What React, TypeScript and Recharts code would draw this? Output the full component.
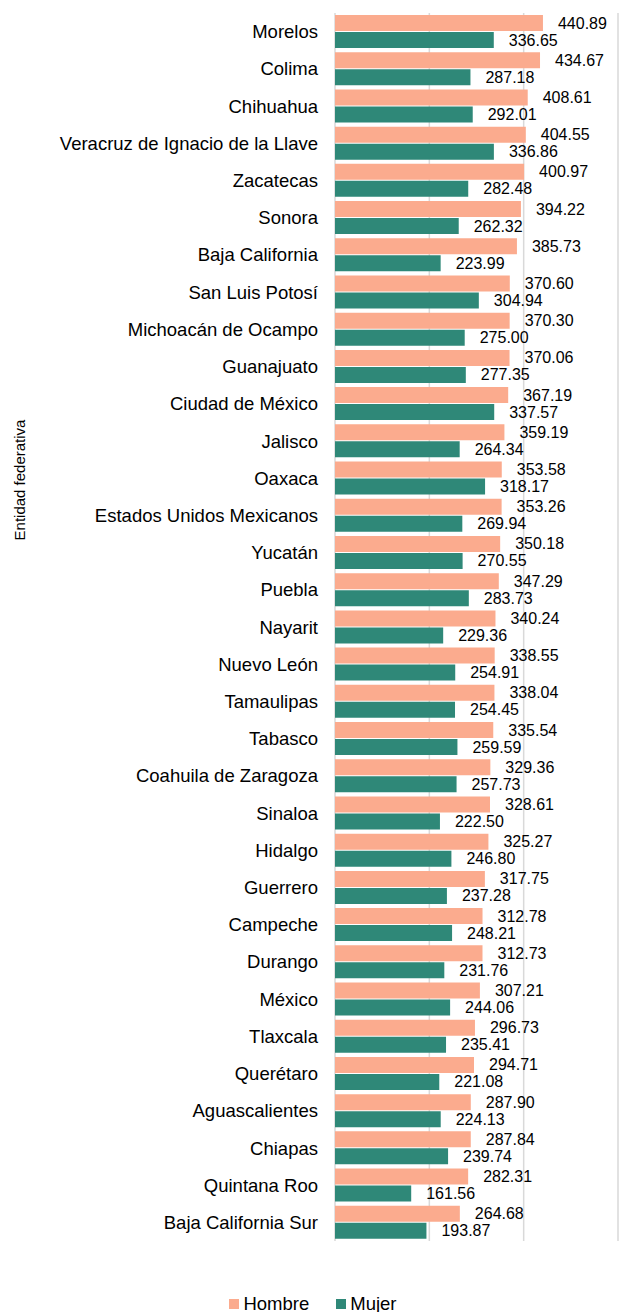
import React from "react";
import {
  BarChart,
  Bar,
  XAxis,
  YAxis,
  CartesianGrid,
  Legend,
  LabelList,
} from "recharts";

const ESTADOS = [
  "Morelos",
  "Colima",
  "Chihuahua",
  "Veracruz de Ignacio de la Llave",
  "Zacatecas",
  "Sonora",
  "Baja California",
  "San Luis Potosí",
  "Michoacán de Ocampo",
  "Guanajuato",
  "Ciudad de México",
  "Jalisco",
  "Oaxaca",
  "Estados Unidos Mexicanos",
  "Yucatán",
  "Puebla",
  "Nayarit",
  "Nuevo León",
  "Tamaulipas",
  "Tabasco",
  "Coahuila de Zaragoza",
  "Sinaloa",
  "Hidalgo",
  "Guerrero",
  "Campeche",
  "Durango",
  "México",
  "Tlaxcala",
  "Querétaro",
  "Aguascalientes",
  "Chiapas",
  "Quintana Roo",
  "Baja California Sur",
];

const HOMBRE = [
  440.89, 434.67, 408.61, 404.55, 400.97, 394.22, 385.73, 370.6, 370.3, 370.06,
  367.19, 359.19, 353.58, 353.26, 350.18, 347.29, 340.24, 338.55, 338.04,
  335.54, 329.36, 328.61, 325.27, 317.75, 312.78, 312.73, 307.21, 296.73,
  294.71, 287.9, 287.84, 282.31, 264.68,
];

const MUJER = [
  336.65, 287.18, 292.01, 336.86, 282.48, 262.32, 223.99, 304.94, 275.0,
  277.35, 337.57, 264.34, 318.17, 269.94, 270.55, 283.73, 229.36, 254.91,
  254.45, 259.59, 257.73, 222.5, 246.8, 237.28, 248.21, 231.76, 244.06,
  235.41, 221.08, 224.13, 239.74, 161.56, 193.87,
];

const X_TICKS = [0, 200, 400, 600];

const COLOR_HOMBRE = "#FBAB8E";
const COLOR_MUJER = "#2F8878";
const FONT = '"Liberation Sans", Arial, sans-serif';

const data = ESTADOS.map((name, i) => ({
  name,
  hombre: HOMBRE[i],
  mujer: MUJER[i],
}));

function ValueLabel(props: any) {
  const { x, y, width, height, value } = props;
  return (
    <text
      x={x + width + 15}
      y={y + height / 2}
      dominantBaseline="central"
      fontSize={16}
      fill="#000"
      fontFamily={FONT}
    >
      {Number(value).toFixed(2)}
    </text>
  );
}

const axisTitle = () => (
  <text
    transform="translate(19,480) rotate(-90)"
    textAnchor="middle"
    dominantBaseline="central"
    style={{ fontSize: 15, fontFamily: FONT, fill: "#000" }}
  >
    Entidad federativa
  </text>
);

function LegendBox() {
  const items = [
    { label: "Hombre", color: COLOR_HOMBRE },
    { label: "Mujer", color: COLOR_MUJER },
  ];
  return (
    <div
      style={{
        display: "flex",
        justifyContent: "center",
        gap: 27,
        paddingLeft: 8,
        fontFamily: FONT,
        fontSize: 18.5,
        color: "#000",
        lineHeight: "22px",
      }}
    >
      {items.map((it) => (
        <span key={it.label} style={{ display: "flex", alignItems: "center" }}>
          <span
            style={{
              width: 10,
              height: 10,
              background: it.color,
              display: "inline-block",
              marginRight: 4,
            }}
          />
          {it.label}
        </span>
      ))}
    </div>
  );
}

export default function App() {
  return (
    <div style={{ position: "absolute", left: 0, top: 0, background: "#fff" }}>
      <BarChart
        width={622}
        height={1312}
        data={data}
        layout="vertical"
        margin={{ top: 13, right: 4, bottom: 49, left: 0 }}
        barSize={16}
        barGap={1}
        style={{ fontFamily: FONT }}
      >
        <CartesianGrid horizontal={false} stroke="#d9d9d9" strokeWidth={1.5} />
        <XAxis type="number" domain={[0, 600]} ticks={X_TICKS} hide />
        <YAxis
          type="category"
          dataKey="name"
          width={335}
          interval={0}
          tickLine={false}
          axisLine={false}
          tickSize={0}
          tickMargin={17}
          tick={{ fontSize: 18.5, fill: "#000" }}
          label={{ content: axisTitle }}
        />
        <Legend
          verticalAlign="bottom"
          content={<LegendBox />}
          wrapperStyle={{ bottom: -3 }}
        />
        <Bar dataKey="hombre" name="Hombre" fill={COLOR_HOMBRE} isAnimationActive={false}>
          <LabelList dataKey="hombre" content={<ValueLabel />} />
        </Bar>
        <Bar dataKey="mujer" name="Mujer" fill={COLOR_MUJER} isAnimationActive={false}>
          <LabelList dataKey="mujer" content={<ValueLabel />} />
        </Bar>
      </BarChart>
    </div>
  );
}
